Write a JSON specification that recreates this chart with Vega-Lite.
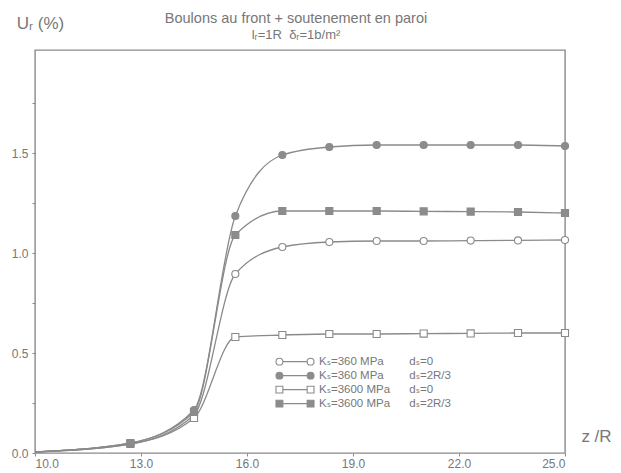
{
  "$schema": "https://vega.github.io/schema/vega-lite/v6.json",
  "width": 530,
  "height": 403,
  "autosize": {"type": "none"},
  "padding": {"left": 35, "top": 50, "right": 56, "bottom": 20},
  "background": "white",
  "config": {
    "font": "Liberation Sans, DejaVu Sans, sans-serif",
    "view": {"stroke": "#8a8a8a", "strokeWidth": 1.4}
  },
  "title": {
    "text": "Boulons au front + soutenement en paroi",
    "subtitle": "l\u1d63=1R\u00a0\u00a0\u03b4\u1d63=1b/m\u00b2",
    "anchor": "middle",
    "frame": "group",
    "dx": -4,
    "dy": 7,
    "offset": -22,
    "fontSize": 14.5,
    "fontWeight": "normal",
    "color": "#777777",
    "subtitleFontSize": 13,
    "subtitleColor": "#777777",
    "subtitlePadding": 3
  },
  "data": {
    "values": [
      {"series": "K\u209b=360 MPa\u00a0\u00a0\u00a0\u00a0\u00a0\u00a0\u00a0\u00a0d\u209b=0", "z": 10, "u": 0.005},
      {"series": "K\u209b=360 MPa\u00a0\u00a0\u00a0\u00a0\u00a0\u00a0\u00a0\u00a0d\u209b=0", "z": 12.7, "u": 0.045},
      {"series": "K\u209b=360 MPa\u00a0\u00a0\u00a0\u00a0\u00a0\u00a0\u00a0\u00a0d\u209b=0", "z": 14.5, "u": 0.19},
      {"series": "K\u209b=360 MPa\u00a0\u00a0\u00a0\u00a0\u00a0\u00a0\u00a0\u00a0d\u209b=0", "z": 15.67, "u": 0.895},
      {"series": "K\u209b=360 MPa\u00a0\u00a0\u00a0\u00a0\u00a0\u00a0\u00a0\u00a0d\u209b=0", "z": 17, "u": 1.03},
      {"series": "K\u209b=360 MPa\u00a0\u00a0\u00a0\u00a0\u00a0\u00a0\u00a0\u00a0d\u209b=0", "z": 18.33, "u": 1.055},
      {"series": "K\u209b=360 MPa\u00a0\u00a0\u00a0\u00a0\u00a0\u00a0\u00a0\u00a0d\u209b=0", "z": 19.67, "u": 1.06},
      {"series": "K\u209b=360 MPa\u00a0\u00a0\u00a0\u00a0\u00a0\u00a0\u00a0\u00a0d\u209b=0", "z": 21, "u": 1.06},
      {"series": "K\u209b=360 MPa\u00a0\u00a0\u00a0\u00a0\u00a0\u00a0\u00a0\u00a0d\u209b=0", "z": 22.33, "u": 1.062},
      {"series": "K\u209b=360 MPa\u00a0\u00a0\u00a0\u00a0\u00a0\u00a0\u00a0\u00a0d\u209b=0", "z": 23.67, "u": 1.063},
      {"series": "K\u209b=360 MPa\u00a0\u00a0\u00a0\u00a0\u00a0\u00a0\u00a0\u00a0d\u209b=0", "z": 25, "u": 1.065},
      {"series": "K\u209b=360 MPa\u00a0\u00a0\u00a0\u00a0\u00a0\u00a0\u00a0\u00a0d\u209b=2R/3", "z": 10, "u": 0.005},
      {"series": "K\u209b=360 MPa\u00a0\u00a0\u00a0\u00a0\u00a0\u00a0\u00a0\u00a0d\u209b=2R/3", "z": 12.7, "u": 0.05},
      {"series": "K\u209b=360 MPa\u00a0\u00a0\u00a0\u00a0\u00a0\u00a0\u00a0\u00a0d\u209b=2R/3", "z": 14.5, "u": 0.215},
      {"series": "K\u209b=360 MPa\u00a0\u00a0\u00a0\u00a0\u00a0\u00a0\u00a0\u00a0d\u209b=2R/3", "z": 15.67, "u": 1.185},
      {"series": "K\u209b=360 MPa\u00a0\u00a0\u00a0\u00a0\u00a0\u00a0\u00a0\u00a0d\u209b=2R/3", "z": 17, "u": 1.49},
      {"series": "K\u209b=360 MPa\u00a0\u00a0\u00a0\u00a0\u00a0\u00a0\u00a0\u00a0d\u209b=2R/3", "z": 18.33, "u": 1.53},
      {"series": "K\u209b=360 MPa\u00a0\u00a0\u00a0\u00a0\u00a0\u00a0\u00a0\u00a0d\u209b=2R/3", "z": 19.67, "u": 1.54},
      {"series": "K\u209b=360 MPa\u00a0\u00a0\u00a0\u00a0\u00a0\u00a0\u00a0\u00a0d\u209b=2R/3", "z": 21, "u": 1.54},
      {"series": "K\u209b=360 MPa\u00a0\u00a0\u00a0\u00a0\u00a0\u00a0\u00a0\u00a0d\u209b=2R/3", "z": 22.33, "u": 1.54},
      {"series": "K\u209b=360 MPa\u00a0\u00a0\u00a0\u00a0\u00a0\u00a0\u00a0\u00a0d\u209b=2R/3", "z": 23.67, "u": 1.54},
      {"series": "K\u209b=360 MPa\u00a0\u00a0\u00a0\u00a0\u00a0\u00a0\u00a0\u00a0d\u209b=2R/3", "z": 25, "u": 1.535},
      {"series": "K\u209b=3600 MPa\u00a0\u00a0\u00a0\u00a0\u00a0\u00a0d\u209b=0", "z": 10, "u": 0.005},
      {"series": "K\u209b=3600 MPa\u00a0\u00a0\u00a0\u00a0\u00a0\u00a0d\u209b=0", "z": 12.7, "u": 0.045},
      {"series": "K\u209b=3600 MPa\u00a0\u00a0\u00a0\u00a0\u00a0\u00a0d\u209b=0", "z": 14.5, "u": 0.175},
      {"series": "K\u209b=3600 MPa\u00a0\u00a0\u00a0\u00a0\u00a0\u00a0d\u209b=0", "z": 15.67, "u": 0.58},
      {"series": "K\u209b=3600 MPa\u00a0\u00a0\u00a0\u00a0\u00a0\u00a0d\u209b=0", "z": 17, "u": 0.59},
      {"series": "K\u209b=3600 MPa\u00a0\u00a0\u00a0\u00a0\u00a0\u00a0d\u209b=0", "z": 18.33, "u": 0.595},
      {"series": "K\u209b=3600 MPa\u00a0\u00a0\u00a0\u00a0\u00a0\u00a0d\u209b=0", "z": 19.67, "u": 0.595},
      {"series": "K\u209b=3600 MPa\u00a0\u00a0\u00a0\u00a0\u00a0\u00a0d\u209b=0", "z": 21, "u": 0.597},
      {"series": "K\u209b=3600 MPa\u00a0\u00a0\u00a0\u00a0\u00a0\u00a0d\u209b=0", "z": 22.33, "u": 0.598},
      {"series": "K\u209b=3600 MPa\u00a0\u00a0\u00a0\u00a0\u00a0\u00a0d\u209b=0", "z": 23.67, "u": 0.6},
      {"series": "K\u209b=3600 MPa\u00a0\u00a0\u00a0\u00a0\u00a0\u00a0d\u209b=0", "z": 25, "u": 0.6},
      {"series": "K\u209b=3600 MPa\u00a0\u00a0\u00a0\u00a0\u00a0\u00a0d\u209b=2R/3", "z": 10, "u": 0.005},
      {"series": "K\u209b=3600 MPa\u00a0\u00a0\u00a0\u00a0\u00a0\u00a0d\u209b=2R/3", "z": 12.7, "u": 0.05},
      {"series": "K\u209b=3600 MPa\u00a0\u00a0\u00a0\u00a0\u00a0\u00a0d\u209b=2R/3", "z": 14.5, "u": 0.205},
      {"series": "K\u209b=3600 MPa\u00a0\u00a0\u00a0\u00a0\u00a0\u00a0d\u209b=2R/3", "z": 15.67, "u": 1.09},
      {"series": "K\u209b=3600 MPa\u00a0\u00a0\u00a0\u00a0\u00a0\u00a0d\u209b=2R/3", "z": 17, "u": 1.21},
      {"series": "K\u209b=3600 MPa\u00a0\u00a0\u00a0\u00a0\u00a0\u00a0d\u209b=2R/3", "z": 18.33, "u": 1.21},
      {"series": "K\u209b=3600 MPa\u00a0\u00a0\u00a0\u00a0\u00a0\u00a0d\u209b=2R/3", "z": 19.67, "u": 1.21},
      {"series": "K\u209b=3600 MPa\u00a0\u00a0\u00a0\u00a0\u00a0\u00a0d\u209b=2R/3", "z": 21, "u": 1.208},
      {"series": "K\u209b=3600 MPa\u00a0\u00a0\u00a0\u00a0\u00a0\u00a0d\u209b=2R/3", "z": 22.33, "u": 1.207},
      {"series": "K\u209b=3600 MPa\u00a0\u00a0\u00a0\u00a0\u00a0\u00a0d\u209b=2R/3", "z": 23.67, "u": 1.205},
      {"series": "K\u209b=3600 MPa\u00a0\u00a0\u00a0\u00a0\u00a0\u00a0d\u209b=2R/3", "z": 25, "u": 1.2}
    ]
  },
  "encoding": {
    "x": {
      "field": "z",
      "type": "quantitative",
      "scale": {"domain": [10, 25], "nice": false, "zero": false},
      "axis": {
        "title": "z /R",
        "titleX": 561,
        "titleY": -12,
        "titleAlign": "center",
        "titleBaseline": "alphabetic",
        "titleFontSize": 17,
        "titleFontWeight": "normal",
        "titleColor": "#777777",
        "values": [10, 13, 16, 19, 22, 25],
        "format": ".1f",
        "domain": false,
        "grid": false,
        "ticks": true,
        "tickSize": 3,
        "tickColor": "#8a8a8a",
        "labelColor": "#777777",
        "labelFontSize": 12,
        "labelPadding": 2
      }
    },
    "y": {
      "field": "u",
      "type": "quantitative",
      "scale": {"domain": [0, 2.015], "nice": false},
      "axis": {
        "title": "U\u1d63 (%)",
        "titleAngle": 0,
        "titleX": 5,
        "titleY": -22,
        "titleAlign": "center",
        "titleBaseline": "alphabetic",
        "titleFontSize": 17,
        "titleFontWeight": "normal",
        "titleColor": "#777777",
        "values": [0, 0.25, 0.5, 0.75, 1, 1.25, 1.5, 1.75],
        "labelExpr": "(datum.value * 2) % 1 == 0 ? format(datum.value, '.1f') : ''",
        "domain": false,
        "grid": false,
        "tickSize": 3,
        "tickColor": "#8a8a8a",
        "labelColor": "#777777",
        "labelFontSize": 12,
        "labelPadding": 4
      }
    }
  },
  "resolve": {"scale": {"shape": "independent", "fill": "independent", "stroke": "independent"}},
  "layer": [
    {
      "mark": {"type": "line", "interpolate": "monotone", "stroke": "#8a8a8a", "strokeWidth": 1.3},
      "encoding": {"detail": {"field": "series"}}
    },
    {
      "transform": [{"filter": "datum.z > 10"}],
      "mark": {"type": "point", "filled": true, "size": 50, "stroke": "#8a8a8a", "strokeWidth": 1.1, "opacity": 1},
      "encoding": {
        "shape": {
          "field": "series",
          "scale": {
            "domain": [
              "K\u209b=360 MPa\u00a0\u00a0\u00a0\u00a0\u00a0\u00a0\u00a0\u00a0d\u209b=0",
              "K\u209b=360 MPa\u00a0\u00a0\u00a0\u00a0\u00a0\u00a0\u00a0\u00a0d\u209b=2R/3",
              "K\u209b=3600 MPa\u00a0\u00a0\u00a0\u00a0\u00a0\u00a0d\u209b=0",
              "K\u209b=3600 MPa\u00a0\u00a0\u00a0\u00a0\u00a0\u00a0d\u209b=2R/3"
            ],
            "range": ["circle", "circle", "square", "square"]
          },
          "legend": null
        },
        "fill": {
          "field": "series",
          "scale": {
            "domain": [
              "K\u209b=360 MPa\u00a0\u00a0\u00a0\u00a0\u00a0\u00a0\u00a0\u00a0d\u209b=0",
              "K\u209b=360 MPa\u00a0\u00a0\u00a0\u00a0\u00a0\u00a0\u00a0\u00a0d\u209b=2R/3",
              "K\u209b=3600 MPa\u00a0\u00a0\u00a0\u00a0\u00a0\u00a0d\u209b=0",
              "K\u209b=3600 MPa\u00a0\u00a0\u00a0\u00a0\u00a0\u00a0d\u209b=2R/3"
            ],
            "range": ["white", "#8c8c8c", "white", "#8c8c8c"]
          },
          "legend": null
        }
      }
    },
    {
      "transform": [{"filter": "datum.z < 0"}],
      "mark": {"type": "point", "filled": true, "strokeWidth": 1.1, "opacity": 1},
      "encoding": {
        "shape": {
          "field": "series",
          "scale": {
            "domain": [
              "K\u209b=360 MPa\u00a0\u00a0\u00a0\u00a0\u00a0\u00a0\u00a0\u00a0d\u209b=0",
              "K\u209b=360 MPa\u00a0\u00a0\u00a0\u00a0\u00a0\u00a0\u00a0\u00a0d\u209b=2R/3",
              "K\u209b=3600 MPa\u00a0\u00a0\u00a0\u00a0\u00a0\u00a0d\u209b=0",
              "K\u209b=3600 MPa\u00a0\u00a0\u00a0\u00a0\u00a0\u00a0d\u209b=2R/3"
            ],
            "range": [
              "M-1,0A0.18,0.18,0,1,0,-0.64,0A0.18,0.18,0,1,0,-1,0Z M-0.64,0H0.64 M0.64,0A0.18,0.18,0,1,0,1,0A0.18,0.18,0,1,0,0.64,0Z",
              "M-1,0A0.18,0.18,0,1,0,-0.64,0A0.18,0.18,0,1,0,-1,0Z M-0.64,0H0.64 M0.64,0A0.18,0.18,0,1,0,1,0A0.18,0.18,0,1,0,0.64,0Z",
              "M-1,-0.18H-0.64V0.18H-1Z M-0.64,0H0.64 M0.64,-0.18H1V0.18H0.64Z",
              "M-1,-0.18H-0.64V0.18H-1Z M-0.64,0H0.64 M0.64,-0.18H1V0.18H0.64Z"
            ]
          },
          "legend": {
            "title": null,
            "orient": "none",
            "legendX": 240,
            "legendY": 305,
            "symbolSize": 1444,
            "clipHeight": 13.3,
            "rowPadding": 0,
            "padding": 0,
            "labelFontSize": 11.5,
            "labelColor": "#777777",
            "labelOffset": 4,
            "symbolOffset": 0,
            "symbolOpacity": 1,
            "symbolStrokeWidth": 1.1
          }
        },
        "fill": {
          "field": "series",
          "scale": {
            "domain": [
              "K\u209b=360 MPa\u00a0\u00a0\u00a0\u00a0\u00a0\u00a0\u00a0\u00a0d\u209b=0",
              "K\u209b=360 MPa\u00a0\u00a0\u00a0\u00a0\u00a0\u00a0\u00a0\u00a0d\u209b=2R/3",
              "K\u209b=3600 MPa\u00a0\u00a0\u00a0\u00a0\u00a0\u00a0d\u209b=0",
              "K\u209b=3600 MPa\u00a0\u00a0\u00a0\u00a0\u00a0\u00a0d\u209b=2R/3"
            ],
            "range": ["white", "#8c8c8c", "white", "#8c8c8c"]
          }
        },
        "stroke": {
          "field": "series",
          "scale": {
            "domain": [
              "K\u209b=360 MPa\u00a0\u00a0\u00a0\u00a0\u00a0\u00a0\u00a0\u00a0d\u209b=0",
              "K\u209b=360 MPa\u00a0\u00a0\u00a0\u00a0\u00a0\u00a0\u00a0\u00a0d\u209b=2R/3",
              "K\u209b=3600 MPa\u00a0\u00a0\u00a0\u00a0\u00a0\u00a0d\u209b=0",
              "K\u209b=3600 MPa\u00a0\u00a0\u00a0\u00a0\u00a0\u00a0d\u209b=2R/3"
            ],
            "range": ["#8a8a8a", "#8a8a8a", "#8a8a8a", "#8a8a8a"]
          }
        }
      }
    }
  ]
}
